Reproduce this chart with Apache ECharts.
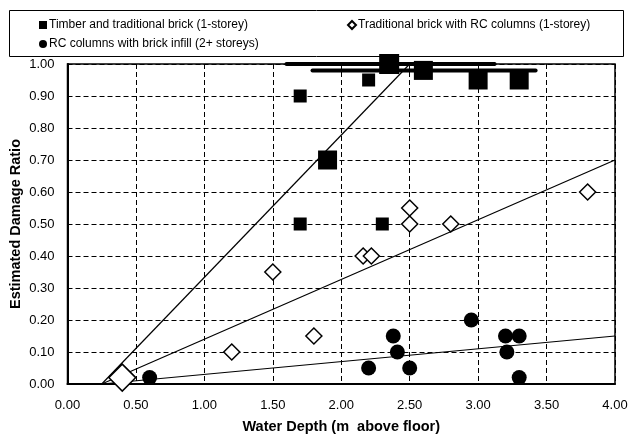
<!DOCTYPE html>
<html>
<head>
<meta charset="utf-8">
<script src="https://cdn.jsdelivr.net/npm/echarts@6/dist/echarts.min.js"></script>
<style>html,body{margin:0;padding:0;background:#fff}#c{width:631px;height:441px}</style>
</head>
<body>
<div id="c"></div>
<script>
// ---- data ----
var seriesNames = ['Timber and traditional brick (1-storey)', 'Traditional brick with RC columns (1-storey)', 'RC columns with brick infill (2+ storeys)'];
// [x, y, size]
var timberPoints = [[1.70, 0.90, 13], [1.70, 0.50, 13], [2.20, 0.95, 13], [2.30, 0.50, 13], [1.90, 0.70, 19], [2.35, 1.00, 20], [2.60, 0.98, 19], [3.00, 0.95, 19], [3.30, 0.95, 19]];
var brickRcPoints = [[0.40, 0.02, 27], [1.20, 0.10, 16], [1.50, 0.35, 16], [1.80, 0.15, 16], [2.16, 0.40, 16], [2.22, 0.40, 16], [2.50, 0.55, 16], [2.50, 0.50, 16], [2.80, 0.50, 16], [3.80, 0.60, 16]];
var rcInfillPoints = [[0.60, 0.02, 15], [2.20, 0.05, 15], [2.38, 0.15, 15], [2.41, 0.10, 15], [2.50, 0.05, 15], [2.95, 0.20, 15], [3.20, 0.15, 15], [3.30, 0.15, 15], [3.21, 0.10, 15], [3.30, 0.02, 15]];
var timberFit = [[0.25, 0], [2.50, 1.00]];
var brickRcFit = [[0.25, 0], [4.00, 0.70]];
var rcInfillFit = [[0.25, 0], [4.00, 0.15]];
var errorBar1 = [[1.60, 1.00], [3.12, 1.00]];
var errorBar2 = [[1.79, 0.98], [3.42, 0.98]];
var xTicks = {min: 0, max: 4, interval: 0.5};
var yTicks = {min: 0, max: 1, interval: 0.1};

var FONT = 'Arial, "Liberation Sans", sans-serif';
var chart = echarts.init(document.getElementById('c'), null, {renderer: 'canvas'});

function fitLine(data) {
  return {type: 'line', data: data, symbol: 'none', silent: true, clip: false,
    lineStyle: {color: '#000', width: 1.2}, z: 3};
}
function barLine(data) {
  return {type: 'line', data: data, symbol: 'none', silent: true, clip: false,
    lineStyle: {color: '#000', width: 4, cap: 'round'}, z: 4};
}
function sz(v) { return v[2]; }

var option = {
  animation: false,
  backgroundColor: '#fff',
  textStyle: {fontFamily: FONT},
  grid: {left: 67.5, right: 16, top: 64, bottom: 57, show: true, borderColor: '#000', borderWidth: 1.5, containLabel: false, outerBoundsMode: 'none'},
  graphic: [{type: 'rect', left: 7, top: 8, shape: {width: 614, height: 46}, style: {fill: 'none', stroke: '#000', lineWidth: 1}, z: 0}],
  legend: [
    {data: [{name: seriesNames[0], icon: 'rect'}, {name: seriesNames[2], icon: 'circle'}], orient: 'vertical', left: 34, top: 14, itemWidth: 8, itemHeight: 8, itemGap: 7,
      textStyle: {fontSize: 12, color: '#000', fontFamily: FONT, padding: [0, 0, 0, -3]}},
    {data: [{name: seriesNames[1], icon: 'diamond'}], orient: 'horizontal', left: 342, top: 14, itemWidth: 8, itemHeight: 8,
      textStyle: {fontSize: 12, color: '#000', fontFamily: FONT, padding: [0, 0, 0, -3]}}
  ],
  xAxis: {type: 'value', min: xTicks.min, max: xTicks.max, interval: xTicks.interval,
    name: 'Water Depth (m  above floor)', nameLocation: 'middle', nameGap: 35, nameMoveOverlap: false,
    nameTextStyle: {fontWeight: 'bold', fontSize: 14.5, color: '#000', fontFamily: FONT},
    axisLine: {show: true, onZero: false, lineStyle: {color: '#000', width: 2}},
    axisTick: {show: false},
    axisLabel: {color: '#000', fontSize: 13, margin: 15, fontFamily: FONT, formatter: function (v) { return v.toFixed(2); }},
    splitLine: {show: true, lineStyle: {color: '#000', type: [5, 3], width: 1}}},
  yAxis: {type: 'value', min: yTicks.min, max: yTicks.max, interval: yTicks.interval,
    name: 'Estimated Damage Ratio', nameLocation: 'middle', nameGap: 44, nameMoveOverlap: false,
    nameTextStyle: {fontWeight: 'bold', fontSize: 14.5, color: '#000', fontFamily: FONT},
    axisLine: {show: true, onZero: false, lineStyle: {color: '#000', width: 2}},
    axisTick: {show: false},
    axisLabel: {color: '#000', fontSize: 13, margin: 13, fontFamily: FONT, formatter: function (v) { return v.toFixed(2); }},
    splitLine: {show: true, lineStyle: {color: '#000', type: [5, 3], width: 1}}},
  series: [
    fitLine(timberFit), fitLine(brickRcFit), fitLine(rcInfillFit),
    barLine(errorBar1), barLine(errorBar2),
    {name: seriesNames[0], type: 'scatter', symbol: 'rect', clip: false, z: 5,
      data: timberPoints, symbolSize: sz, itemStyle: {color: '#000', opacity: 1}},
    {name: seriesNames[1], type: 'scatter', symbol: 'diamond', clip: false, z: 5,
      data: brickRcPoints, symbolSize: sz, itemStyle: {color: '#fff', borderColor: '#000', borderWidth: 1.5, opacity: 1}},
    {name: seriesNames[2], type: 'scatter', symbol: 'circle', clip: false, z: 5,
      data: rcInfillPoints, symbolSize: sz, itemStyle: {color: '#000', opacity: 1}}
  ]
};
chart.setOption(option);
</script>
</body>
</html>
